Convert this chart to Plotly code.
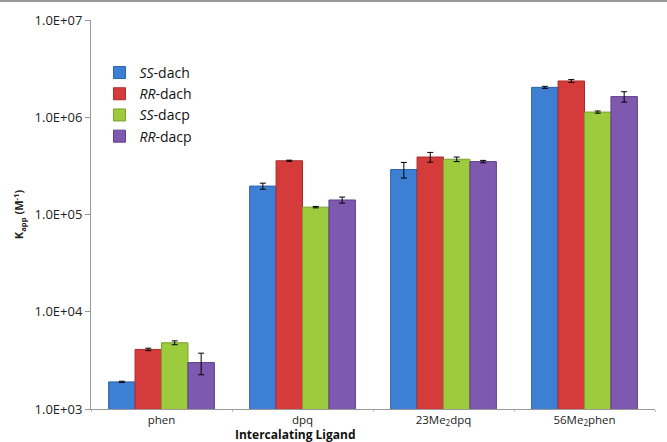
import plotly.graph_objects as go

categories = ["phen", "dpq", "23Me<sub>2</sub>dpq", "56Me<sub>2</sub>phen"]
series_names = ["<i>SS</i>-dach", "<i>RR</i>-dach", "<i>SS</i>-dacp", "<i>RR</i>-dacp"]

ss_dach = [1.9e3, 1.96e5, 2.9e5, 2.03e6]
ss_dach_err = [0.03e3, 0.14e5, 0.53e5, 0.05e6]
rr_dach = [4.1e3, 3.57e5, 3.9e5, 2.36e6]
rr_dach_err = [0.12e3, 0.05e5, 0.45e5, 0.08e6]
ss_dacp = [4.8e3, 1.19e5, 3.7e5, 1.13e6]
ss_dacp_err = [0.22e3, 0.02e5, 0.2e5, 0.03e6]
rr_dacp = [3.0e3, 1.41e5, 3.5e5, 1.63e6]
rr_dacp_err = [0.75e3, 0.1e5, 0.1e5, 0.2e6]

tick_vals = [1e3, 1e4, 1e5, 1e6, 1e7]
tick_text = ["1.0E+03", "1.0E+04", "1.0E+05", "1.0E+06", "1.0E+07"]

colors = ["#3C7FD3", "#D63B3B", "#9CCB3E", "#7F58B0"]
lines = ["#2D64A8", "#A82C2C", "#7AA02C", "#5E3F88"]

fig = go.Figure()
for name, vals, errs, c, lc in zip(series_names,
                                   [ss_dach, rr_dach, ss_dacp, rr_dacp],
                                   [ss_dach_err, rr_dach_err, ss_dacp_err, rr_dacp_err],
                                   colors, lines):
    fig.add_trace(go.Bar(
        x=categories, y=vals, name=name,
        marker=dict(color=c, line=dict(color=lc, width=1)),
        error_y=dict(type="data", array=errs, visible=True,
                     color="black", thickness=1, width=3),
    ))

fig.update_layout(
    width=667, height=442,
    margin=dict(l=91, r=12, t=20, b=33, autoexpand=False),
    paper_bgcolor="white", plot_bgcolor="white",
    font=dict(family="Open Sans, Noto Sans, sans-serif", size=11, color="#222"),
    barmode="group", bargap=0.25, bargroupgap=0,
    showlegend=True,
    legend=dict(x=0.015, y=0.905, xanchor="left", yanchor="top",
                bgcolor="rgba(0,0,0,0)", font=dict(size=14, color="#111"),
                itemwidth=30, tracegroupgap=8),
    yaxis=dict(type="log", range=[3, 7], tickvals=tick_vals, ticktext=tick_text,
               automargin=False,
               showgrid=False, showline=True, linecolor="#999", linewidth=1,
               ticks="outside", tickcolor="#999", ticklen=5,
               tickfont=dict(size=13, color="#222"),
               title=dict(text="<b>K<sub>app</sub> (M<sup>-1</sup>)</b>", font=dict(size=11), standoff=8)),
    xaxis=dict(showgrid=False, showline=True, linecolor="#999", linewidth=1,
               automargin=False,
               ticks="outside", tickson="boundaries", tickcolor="#bbb", ticklen=2,
               tickfont=dict(size=11.5, color="#222")),
    annotations=[dict(text="<b>Intercalating Ligand</b>", xref="paper", yref="paper",
                      x=0.363, y=0, yshift=-25, xanchor="center", yanchor="middle",
                      showarrow=False, font=dict(size=12, color="#111"))],
    shapes=[dict(type="line", xref="paper", yref="paper",
                 x0=-91/564, x1=1+12/564, y0=1+19/389, y1=1+19/389,
                 line=dict(color="#999", width=2))],
)

fig.write_html("out.html", config={"displayModeBar": False},
               post_script="document.body.style.margin='0';document.body.style.overflow='hidden';")
